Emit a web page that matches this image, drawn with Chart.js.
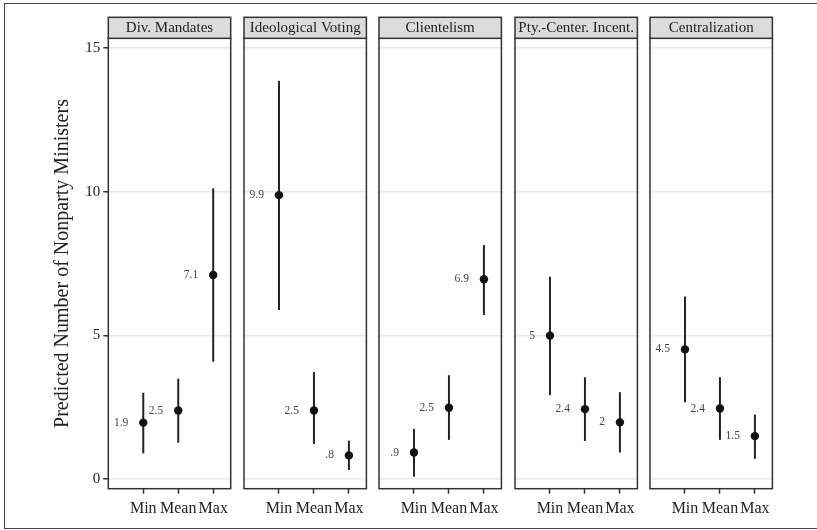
<!DOCTYPE html>
<html>
<head>
<meta charset="utf-8">
<script src="https://cdn.jsdelivr.net/npm/chart.js@4.4.1/dist/chart.umd.min.js"></script>
<style>
  body { margin: 0; background: #fff; }
  #wrap { position: relative; width: 817px; height: 530px; overflow: hidden; }
  #frame { position: absolute; left: 4px; top: 3px; width: 830px; height: 524px; border: 1.5px solid #444; }
  canvas { position: absolute; top: 0; }
</style>
</head>
<body>
<div id="wrap">
  <div id="frame"></div>
</div>
<script>
const categories = ["Min", "Mean", "Max"];
const panelTitles = ["Div. Mandates", "Ideological Voting", "Clientelism", "Pty.-Center. Incent.", "Centralization"];
const yTicks = [0, 5, 10, 15];

// predicted value, lower and upper bound for Min / Mean / Max in each panel
const divMandates = [1.96, 2.38, 7.1];
const ideoVoting = [9.88, 2.38, 0.82];
const clientelism = [0.92, 2.48, 6.95];
const ptyCenter = [4.99, 2.43, 1.97];
const centralization = [4.51, 2.45, 1.49];

const divMandatesLow = [0.89, 1.26, 4.08];
const ideoVotingLow = [5.88, 1.22, 0.31];
const clientelismLow = [0.08, 1.36, 5.71];
const ptyCenterLow = [2.92, 1.32, 0.92];
const centralizationLow = [2.67, 1.36, 0.7];

const divMandatesHigh = [3.0, 3.49, 10.12];
const ideoVotingHigh = [13.86, 3.72, 1.33];
const clientelismHigh = [1.74, 3.61, 8.14];
const ptyCenterHigh = [7.04, 3.54, 3.02];
const centralizationHigh = [6.35, 3.54, 2.24];

const divMandatesText = ["1.9", "2.5", "7.1"];
const ideoVotingText = ["9.9", "2.5", ".8"];
const clientelismText = [".9", "2.5", "6.9"];
const ptyCenterText = ["5", "2.4", "2"];
const centralizationText = ["4.5", "2.4", "1.5"];

const estimates = [divMandates, ideoVoting, clientelism, ptyCenter, centralization];
const lows = [divMandatesLow, ideoVotingLow, clientelismLow, ptyCenterLow, centralizationLow];
const highs = [divMandatesHigh, ideoVotingHigh, clientelismHigh, ptyCenterHigh, centralizationHigh];
const texts = [divMandatesText, ideoVotingText, clientelismText, ptyCenterText, centralizationText];

const SERIF = "'Liberation Serif', 'DejaVu Serif', serif";
const PANEL_W = 122.4;
const PANEL_STEP = 135.4;
const FIRST_LEFT = 108.3;
const PAD = 10;

// draws the CI lines, value labels, panel box and strip header
const panelPlugin = {
  id: "panel",
  beforeDatasetsDraw(chart) {
    const i = chart.options.panelIndex;
    const ctx = chart.ctx;
    const x = chart.scales.x, y = chart.scales.y;
    ctx.save();
    ctx.strokeStyle = "#222";
    ctx.lineWidth = 2;
    lows[i].forEach((lo, k) => {
      const px = x.getPixelForValue(k + 1);
      ctx.beginPath();
      ctx.moveTo(px, y.getPixelForValue(lo));
      ctx.lineTo(px, y.getPixelForValue(highs[i][k]));
      ctx.stroke();
    });
    ctx.fillStyle = "#444";
    ctx.font = "11.5px " + SERIF;
    ctx.textAlign = "right";
    ctx.textBaseline = "middle";
    texts[i].forEach((t, k) => {
      ctx.fillText(t, x.getPixelForValue(k + 1) - 15, y.getPixelForValue(estimates[i][k]));
    });
    ctx.restore();
  },
  afterDraw(chart) {
    const i = chart.options.panelIndex;
    const ctx = chart.ctx;
    const a = chart.chartArea;
    ctx.save();
    ctx.strokeStyle = "#333";
    ctx.lineWidth = 1.5;
    ctx.strokeRect(a.left, a.top, a.right - a.left, a.bottom - a.top);
    ctx.fillStyle = "#dcdcdc";
    ctx.fillRect(a.left, 17.3, a.right - a.left, a.top - 17.3);
    ctx.strokeRect(a.left, 17.3, a.right - a.left, a.top - 17.3);
    ctx.fillStyle = "#222";
    ctx.font = "15px " + SERIF;
    ctx.textAlign = "center";
    ctx.textBaseline = "middle";
    ctx.fillText(panelTitles[i], (a.left + a.right) / 2, (17.3 + a.top) / 2 + 0.5);
    ctx.restore();
  }
};

const wrap = document.getElementById("wrap");

panelTitles.forEach((title, i) => {
  const first = i === 0;
  const left = FIRST_LEFT + i * PANEL_STEP;
  const canvas = document.createElement("canvas");
  const cLeft = first ? 0 : left - PAD;
  const cWidth = first ? FIRST_LEFT + PANEL_W + PAD : PANEL_W + 2 * PAD;
  canvas.width = Math.round(cWidth);
  canvas.height = 530;
  canvas.style.left = cLeft + "px";
  wrap.appendChild(canvas);

  new Chart(canvas.getContext("2d"), {
    type: "scatter",
    data: {
      datasets: [{
        data: estimates[i].map((v, k) => ({ x: k + 1, y: v })),
        pointRadius: 4.2,
        pointBackgroundColor: "#111",
        pointBorderColor: "#111",
        pointBorderWidth: 0
      }]
    },
    options: {
      panelIndex: i,
      responsive: false,
      animation: false,
      devicePixelRatio: 1,
      layout: { padding: { left: first ? 0 : PAD, right: canvas.width - (first ? FIRST_LEFT : PAD) - PANEL_W, top: 38.3, bottom: 0 } },
      plugins: { legend: { display: false }, tooltip: { enabled: false } },
      scales: {
        x: {
          type: "linear",
          min: 0,
          max: 3.5,
          afterBuildTicks: (s) => { s.ticks = categories.map((c, k) => ({ value: k + 1 })); },
          afterFit: (s) => { s.height = 41.3; },
          border: { display: false },
          grid: { drawOnChartArea: false, drawTicks: true, tickLength: 5, tickColor: "#333", tickWidth: 1.5 },
          ticks: {
            font: { family: SERIF, size: 16 },
            color: "#222",
            padding: 5,
            maxRotation: 0,
            autoSkip: false,
            callback: (v, idx) => categories[idx]
          }
        },
        y: {
          min: -0.34,
          max: 15.34,
          afterBuildTicks: (s) => { s.ticks = yTicks.map((v) => ({ value: v })); },
          afterFit: (s) => { s.width = first ? FIRST_LEFT : 0; },
          border: { display: false },
          grid: { color: "#e8e8e8", lineWidth: 1.5, drawTicks: first, tickLength: 5, tickColor: "#333", tickWidth: 1.5 },
          ticks: { display: first, font: { family: SERIF, size: 15 }, color: "#222", padding: 3 },
          title: {
            display: first,
            text: "Predicted Number of Nonparty Ministers",
            font: { family: SERIF, size: 20 },
            color: "#222",
            padding: { top: 51, bottom: 0 }
          }
        }
      }
    },
    plugins: [panelPlugin]
  });
});
</script>
</body>
</html>
